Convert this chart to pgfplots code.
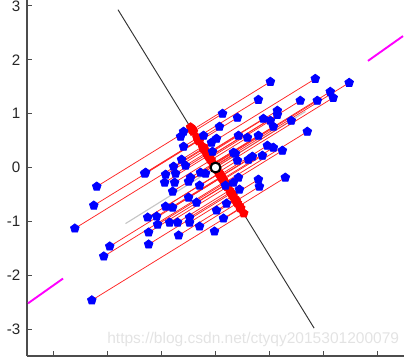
\documentclass[border=0pt]{standalone}
\usepackage{fontspec}
\setmainfont{Liberation Sans}
\usepackage{pgfplots}
\usepackage{pgfplotstable}
\pgfplotsset{compat=1.18}
\usetikzlibrary{plotmarks}
\definecolor{mag}{RGB}{255,0,255}
\definecolor{pblue}{RGB}{0,0,255}
\definecolor{pred}{RGB}{255,0,0}

\pgfplotstableread{
x y
-2.204 -0.352
-1.315 -0.111
-0.944 -0.278
-2.259 -0.704
-2.611 -1.130
-1.963 -1.463
-2.074 -1.648
-2.296 -2.463
-1.259 -0.926
-1.093 -0.907
-0.926 -0.722
-0.796 -0.741
-1.074 -1.056
-1.241 -1.204
-1.241 -1.426
-0.852 -1.019
-0.704 -1.019
-0.685 -1.259
-0.500 -0.556
-0.352 -0.648
-0.481 -0.926
-0.481 -1.019
-0.296 -1.093
-0.019 -1.185
0.148 -0.944
0.019 -0.796
0.204 -0.667
0.444 -0.407
0.815 -0.352
0.185 -0.333
0.333 -0.278
1.296 -0.185
1.019 1.593
1.852 1.648
2.481 1.574
2.130 1.407
2.185 1.296
1.574 1.241
1.889 1.241
0.796 1.259
0.130 1.000
0.407 0.926
1.148 1.056
1.148 0.981
0.889 0.907
1.019 0.870
1.407 0.870
0.074 0.759
1.074 0.759
1.704 0.667
0.426 0.593
0.593 0.556
0.796 0.593
0.019 0.537
-0.074 0.463
-0.593 0.667
-0.648 0.574
-0.222 0.593
-0.593 0.389
-0.630 0.148
-1.296 -0.093
-0.926 -0.130
-0.778 0.019
-0.741 -0.111
-0.556 0.037
-0.278 -0.093
0.963 0.407
1.074 0.370
1.241 0.315
0.370 0.259
0.685 0.204
0.870 0.222
0.407 0.130
0.611 0.148
-0.759 -0.278
-0.500 -0.259
-0.296 -0.333
-0.796 -0.444
-0.463 -0.185
-0.185 -0.111
0.426 -0.185
0.796 -0.222
0.333 0.278
-0.056 0.296
}\bluedata

\begin{document}
\begin{tikzpicture}
\begin{axis}[
  x=1cm, y=1cm,
  xmin=-3.5, xmax=3.5, ymin=-3.5, ymax=3.11,
  axis x line*=bottom, axis y line*=left,
  tick align=inside,
  xtick={-3,...,3}, xticklabels={},
  ytick={-3,...,3},
  major tick length=2.8pt,
  axis line style={draw=gray!60!black, line width=0.9pt},
  tick style={draw=gray!60!black, line width=0.6pt},
  ticklabel style={font=\fontsize{8}{9}\selectfont, text=gray!30!black},
  /pgf/number format/assume math mode=true,
  clip=false,
]
\addplot[gray!45, line width=0.6pt] coordinates {(-1.67,-1.04) (1.67,1.04)};
\addplot[mag, line width=1pt] coordinates {(2.83,1.98) (3.48,2.44)};
\addplot[mag, line width=1pt] coordinates {(-3.48,-2.52) (-2.83,-2.06)};
\addplot[black!80, line width=0.5pt] coordinates {(-1.81,2.93) (1.83,-2.98)};
\addplot[pred!85!white, line width=0.4pt, no markers,
  quiver={u={0.5253*(0.5253*\thisrow{x}-0.8509*\thisrow{y})-\thisrow{x}},
          v={-0.8509*(0.5253*\thisrow{x}-0.8509*\thisrow{y})-\thisrow{y}}}]
  table[x=x, y=y] {\bluedata};
\addplot[only marks, mark=pentagon*, pred, mark size=2.4pt]
  table[x expr={0.5253*(0.5253*\thisrow{x}-0.8509*\thisrow{y})},
        y expr={-0.8509*(0.5253*\thisrow{x}-0.8509*\thisrow{y})}] {\bluedata};
\addplot[only marks, mark=pentagon*, pblue, mark size=2.4pt] table[x=x, y=y] {\bluedata};
\addplot[only marks, mark=*, mark size=2.6pt, mark options={fill=white, draw=black, line width=1.1pt}] coordinates {(0,0)};
\node[text=gray!22, font=\fontsize{8.2}{10}\selectfont] at (axis cs:0.70,-3.2) {https://blog.csdn.net/ctyqy2015301200079};
\coordinate (bl) at (axis cs:-4.0,-3.574);
\coordinate (tr) at (axis cs:3.61,3.11);
\end{axis}
\pgfresetboundingbox
\path (bl) rectangle (tr);
\end{tikzpicture}
\end{document}
